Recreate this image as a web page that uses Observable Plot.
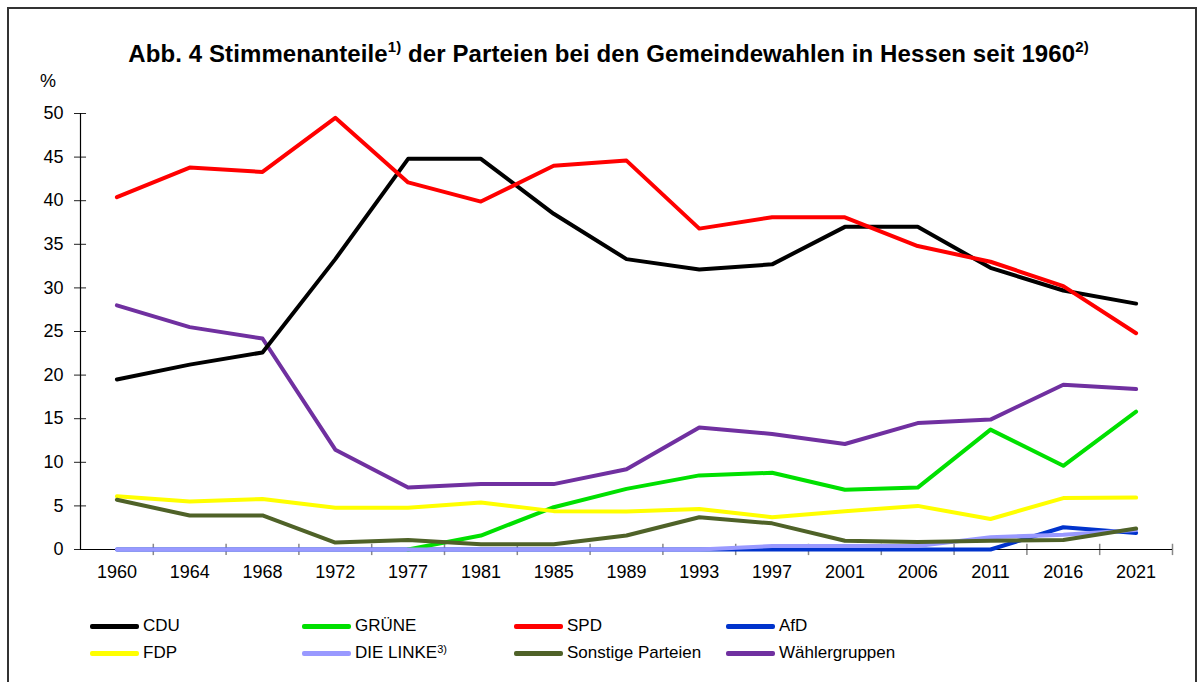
<!DOCTYPE html>
<html>
<head>
<meta charset="utf-8">
<script src="https://cdn.jsdelivr.net/npm/d3@7"></script>
<script src="https://cdn.jsdelivr.net/npm/@observablehq/plot@0.6"></script>
<style>
  html, body { margin: 0; padding: 0; background: #fff; width: 1204px; height: 682px; overflow: hidden; }
  body { font-family: "Liberation Sans", Arial, sans-serif; color: #000; position: relative; }
  #frame { position: absolute; left: 7px; top: 7px; width: 1190px; height: 720px; border: 2px solid #333; box-sizing: border-box; }
  #title { position: absolute; left: 0; width: 1217px; top: 40px; line-height: 28px; text-align: center; font-weight: bold; font-size: 24px; letter-spacing: 0.1px; white-space: nowrap; }
  #title sup { font-size: 15px; vertical-align: 0; position: relative; top: -10px; line-height: 0; }
  #pct { position: absolute; left: 40px; top: 71px; font-size: 18px; }
  #chart { position: absolute; left: 0; top: 70px; }
  #legend { position: absolute; left: 0; top: 0; width: 1204px; }
  .item { position: absolute; display: flex; align-items: center; font-size: 17px; line-height: 18px; white-space: nowrap; }
  .sw { width: 49px; height: 5px; margin-right: 4px; border-radius: 2px; }
  .item sup { font-size: 11px; position: relative; top: -5px; vertical-align: 0; line-height: 0; }
</style>
</head>
<body>
<div id="frame"></div>
<div id="title">Abb. 4 Stimmenanteile<sup>1)</sup> der Parteien bei den Gemeindewahlen in Hessen seit 1960<sup>2)</sup></div>
<div id="pct">%</div>
<div id="chart"></div>
<div id="legend"></div>
<script>
// ---- data ----
const years = ["1960","1964","1968","1972","1977","1981","1985","1989","1993","1997","2001","2006","2011","2016","2021"];
const cdu      = [19.5, 21.2, 22.6, 33.3, 44.8, 44.8, 38.5, 33.3, 32.1, 32.7, 37.0, 37.0, 32.3, 29.7, 28.2];
const gruene   = [null, null, null, null, 0.0, 1.6, 4.85, 6.95, 8.5, 8.8, 6.85, 7.1, 13.75, 9.6, 15.8];
const spd      = [40.4, 43.8, 43.3, 49.5, 42.1, 39.9, 44.0, 44.6, 36.8, 38.1, 38.1, 34.8, 33.0, 30.2, 24.8];
const afd      = [0, 0, 0, 0, 0, 0, 0, 0, 0, 0, 0, 0, 0, 2.55, 1.9];
const fdp      = [6.1, 5.5, 5.8, 4.8, 4.8, 5.4, 4.4, 4.35, 4.65, 3.7, 4.4, 5.0, 3.5, 5.9, 5.95];
const linke    = [0, 0, 0, 0, 0, 0, 0, 0, 0, 0.4, 0.4, 0.4, 1.4, 1.7, 2.25];
const sonstige = [5.7, 3.9, 3.9, 0.8, 1.1, 0.6, 0.6, 1.6, 3.7, 3.0, 1.0, 0.85, 1.0, 1.1, 2.4];
const waehler  = [28.0, 25.5, 24.2, 11.45, 7.1, 7.5, 7.5, 9.2, 14.0, 13.25, 12.1, 14.5, 14.9, 18.9, 18.4];

const legendParties = ["CDU","GRÜNE","SPD","AfD","FDP","DIE LINKE","Sonstige Parteien","Wählergruppen"];
const legendColors  = ["#000000","#00e000","#ff0000","#0033cc","#ffff00","#9999ff","#4f6228","#7030a0"];
const legendSup     = ["","","","","","3)","",""];
const yTicks = [0, 5, 10, 15, 20, 25, 30, 35, 40, 45, 50];

// drawing order (bottom to top)
const series = [
  ["AfD", afd], ["GRÜNE", gruene], ["DIE LINKE", linke], ["FDP", fdp],
  ["Sonstige Parteien", sonstige], ["Wählergruppen", waehler], ["CDU", cdu], ["SPD", spd]
];
const rows = [];
for (const [party, vals] of series) {
  vals.forEach((v, i) => rows.push({party, i, year: years[i], v}));
}
const idx = years.map((_, i) => i);
const boundaries = years.map((_, i) => i + 0.5);
const x0 = -0.5, x1 = years.length - 0.5;

const chart = Plot.plot({
  width: 1204,
  height: 530,
  marginLeft: 80,
  marginRight: 32,
  marginTop: 43,
  marginBottom: 51,
  style: {fontFamily: "'Liberation Sans', Arial, sans-serif", fontSize: "18px", color: "#000", background: "transparent"},
  x: {type: "linear", domain: [x0, x1]},
  y: {domain: [0, 50]},
  color: {domain: legendParties, range: legendColors},
  marks: [
    Plot.axisY({ticks: yTicks, tickSize: 6, tickPadding: 11, label: null, fontSize: 18, stroke: "#222"}),
    Plot.ruleY(yTicks, {x1: x0, x2: x0 + 0.083, stroke: "#222"}),
    Plot.axisX({ticks: idx, tickFormat: i => years[i], tickSize: 0, tickPadding: 16, label: null, fontSize: 18}),
    Plot.ruleX(boundaries, {y1: -0.7, y2: 0.6, stroke: "#888", strokeWidth: 1.5}),
    Plot.ruleX([x0], {y1: 0, y2: 50, stroke: "#000", strokeWidth: 1.2}),
    Plot.ruleY([0], {x1: x0, x2: x1, stroke: "#000", strokeWidth: 1.2}),
    Plot.line(rows, {x: "i", y: "v", z: "party", stroke: "party", strokeWidth: 4, strokeLinecap: "round", strokeLinejoin: "round"})
  ]
});
document.getElementById("chart").appendChild(chart);

// legend
const legend = document.getElementById("legend");
const colX = [90, 302, 514, 726];
const rowY = [617, 644];
legendParties.forEach((p, k) => {
  const el = document.createElement("div");
  el.className = "item";
  el.style.left = colX[k % 4] + "px";
  el.style.top = rowY[Math.floor(k / 4)] + "px";
  const sw = document.createElement("span");
  sw.className = "sw";
  sw.style.background = legendColors[k];
  el.appendChild(sw);
  const t = document.createElement("span");
  t.textContent = p;
  if (legendSup[k]) {
    const s = document.createElement("sup");
    s.textContent = legendSup[k];
    t.appendChild(s);
  }
  el.appendChild(t);
  legend.appendChild(el);
});
</script>
</body>
</html>
